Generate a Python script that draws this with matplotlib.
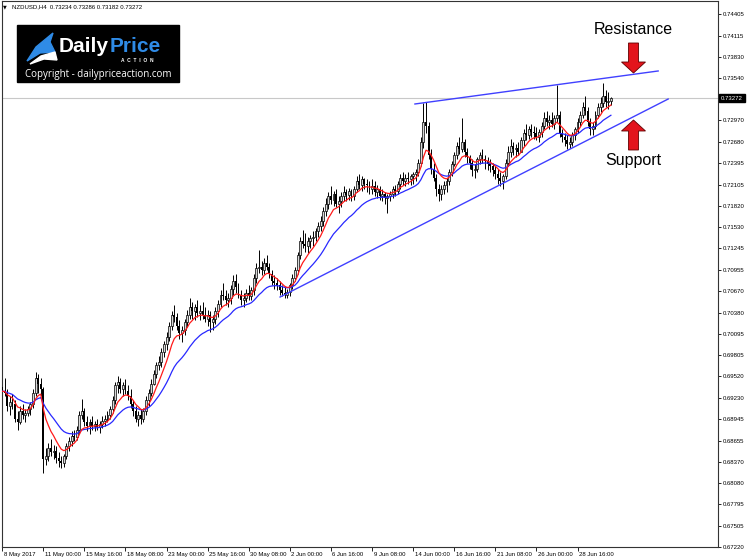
import numpy as np
import pandas as pd
import matplotlib
matplotlib.use("Agg")
import matplotlib.pyplot as plt
from matplotlib import transforms
from matplotlib.patches import Polygon, Rectangle

W, H = 750, 559

SYMBOL = "NZDUSD,H4"
LAST_OHLC = "0.73234 0.73286 0.73182 0.73272"
LAST_PRICE = 0.73272

# H4 bars, prices in pips (x 1e-4); each open = previous close
FIRST_OPEN = 6938
highs = [
    6945, 6950, 6935, 6925, 6928, 6920, 6905, 6912, 6915, 6908, 6912, 6918, 6935, 6958, 6955, 6950,
    6938, 6855, 6862, 6868, 6860, 6858, 6850, 6845, 6848, 6862, 6870, 6878, 6880, 6885, 6905, 6922,
    6910, 6898, 6895, 6898, 6892, 6895, 6892, 6898, 6900,
    6905, 6912, 6925, 6945, 6952, 6950, 6945, 6948, 6940, 6935, 6920, 6912, 6905, 6908, 6910, 6925,
    6935, 6948,
    6960, 6972, 6980, 6990, 7000, 7012, 7025, 7040, 7048, 7038, 7028, 7020, 7030, 7042, 7058, 7052,
    7050, 7055, 7048, 7052, 7045, 7042, 7040, 7035, 7045, 7055, 7068, 7078, 7068, 7065, 7075, 7088,
    7090, 7078, 7068, 7065, 7070, 7075, 7072, 7090, 7105, 7122, 7108, 7112, 7115, 7105, 7095, 7088,
    7085, 7080, 7075, 7072, 7070, 7078, 7090, 7100, 7120, 7140, 7150, 7145, 7140,
    7142, 7148, 7152, 7160, 7168, 7180, 7192, 7200, 7208, 7202, 7205, 7195, 7200, 7208, 7205, 7206,
    7205, 7208, 7222, 7225, 7222, 7220, 7218, 7215, 7218, 7215, 7210, 7208, 7205, 7200, 7198, 7202,
    7208, 7210, 7215, 7225, 7228, 7225, 7228, 7225, 7228,
    7232, 7245, 7275, 7320, 7322, 7295, 7258, 7240, 7225, 7212, 7210, 7215, 7220, 7232, 7242, 7255,
    7268, 7275, 7300, 7272, 7260, 7250, 7245, 7238, 7248, 7255, 7258, 7250, 7248, 7245, 7240, 7235,
    7232, 7228, 7225, 7245, 7262, 7272, 7268, 7265, 7268,
    7275, 7285, 7292, 7290, 7292, 7290, 7288, 7285, 7295, 7308, 7310, 7305, 7308, 7305, 7345, 7310,
    7285, 7280, 7278, 7275, 7282, 7288, 7300, 7310, 7322, 7330, 7315, 7300, 7295, 7310, 7320, 7328,
    7348, 7338, 7335, 7328.6,
]
lows = [
    6915, 6925, 6905, 6900, 6908, 6890, 6880, 6888, 6895, 6890, 6898, 6900, 6910, 6925, 6930, 6925,
    6822, 6832, 6838, 6845, 6840, 6835, 6830, 6828, 6830, 6840, 6852, 6858, 6865, 6866, 6875, 6895,
    6885, 6878, 6875, 6880, 6878, 6880, 6876, 6882, 6885,
    6890, 6895, 6902, 6915, 6930, 6930, 6925, 6928, 6920, 6910, 6898, 6890, 6885, 6888, 6890, 6900,
    6912, 6925,
    6940, 6950, 6960, 6965, 6978, 6988, 7000, 7015, 7025, 7015, 7002, 6998, 7008, 7018, 7030, 7030,
    7028, 7032, 7028, 7030, 7025, 7020, 7012, 7015, 7022, 7032, 7045, 7055, 7048, 7045, 7050, 7062,
    7065, 7058, 7048, 7045, 7052, 7055, 7055, 7062, 7078, 7092, 7088, 7090, 7095, 7085, 7075, 7070,
    7068, 7062, 7060, 7058, 7058, 7060, 7070, 7080, 7090, 7110, 7125, 7120, 7118,
    7125, 7128, 7135, 7140, 7148, 7155, 7168, 7178, 7185, 7182, 7180, 7172, 7180, 7188, 7188, 7190,
    7188, 7190, 7200, 7205, 7202, 7205, 7200, 7198, 7198, 7195, 7192, 7190, 7188, 7185, 7172, 7188,
    7192, 7195, 7198, 7205, 7210, 7208, 7212, 7210, 7212,
    7215, 7222, 7235, 7260, 7280, 7245, 7225, 7215, 7195, 7188, 7190, 7198, 7200, 7210, 7222, 7235,
    7245, 7252, 7255, 7248, 7240, 7232, 7222, 7220, 7228, 7238, 7240, 7232, 7230, 7228, 7222, 7218,
    7212, 7208, 7205, 7218, 7235, 7248, 7250, 7248, 7250,
    7255, 7262, 7270, 7272, 7275, 7272, 7270, 7268, 7275, 7285, 7290, 7285, 7288, 7285, 7295, 7275,
    7268, 7262, 7258, 7260, 7262, 7270, 7280, 7290, 7300, 7305, 7290, 7278, 7277, 7285, 7300, 7308,
    7315, 7315, 7312, 7318.2,
]
closes = [
    6932, 6930, 6912, 6918, 6915, 6895, 6890, 6905, 6900, 6903, 6908, 6915, 6930, 6950, 6942, 6935,
    6840, 6845, 6855, 6850, 6852, 6842, 6838, 6835, 6845, 6858, 6865, 6872, 6870, 6880, 6900, 6905,
    6890, 6885, 6890, 6885, 6888, 6884, 6888, 6892, 6895,
    6900, 6908, 6920, 6940, 6945, 6935, 6940, 6932, 6925, 6915, 6905, 6895, 6900, 6895, 6905, 6920,
    6930, 6942,
    6955, 6968, 6972, 6985, 6995, 7005, 7020, 7035, 7032, 7020, 7010, 7015, 7025, 7035, 7045, 7040,
    7045, 7038, 7040, 7035, 7030, 7035, 7025, 7030, 7040, 7050, 7062, 7060, 7055, 7058, 7070, 7080,
    7072, 7062, 7055, 7058, 7065, 7060, 7068, 7085, 7098, 7100, 7095, 7105, 7100, 7090, 7080, 7078,
    7075, 7068, 7065, 7062, 7066, 7075, 7085, 7095, 7115, 7135, 7130, 7128, 7135,
    7138, 7140, 7148, 7155, 7162, 7175, 7185, 7195, 7190, 7198, 7185, 7188, 7195, 7200, 7196, 7202,
    7195, 7205, 7215, 7210, 7218, 7212, 7210, 7205, 7208, 7200, 7205, 7195, 7198, 7192, 7195, 7198,
    7205, 7202, 7212, 7220, 7215, 7220, 7218, 7222, 7225,
    7228, 7240, 7268, 7295, 7290, 7250, 7232, 7220, 7205, 7198, 7205, 7210, 7215, 7228, 7238, 7250,
    7262, 7258, 7268, 7255, 7248, 7240, 7230, 7232, 7245, 7250, 7245, 7242, 7238, 7235, 7230, 7225,
    7220, 7215, 7222, 7240, 7255, 7262, 7258, 7260, 7255,
    7270, 7280, 7278, 7285, 7282, 7280, 7275, 7282, 7290, 7300, 7295, 7298, 7292, 7300, 7305, 7280,
    7275, 7270, 7265, 7268, 7278, 7285, 7295, 7305, 7315, 7310, 7295, 7285, 7290, 7305, 7315, 7320,
    7330, 7322, 7323.4, 7327.2,
]

date_labels = ["8 May 2017", "11 May 00:00", "15 May 16:00", "18 May 08:00", "23 May 00:00",
               "25 May 16:00", "30 May 08:00", "2 Jun 00:00", "6 Jun 16:00", "9 Jun 08:00",
               "14 Jun 00:00", "16 Jun 16:00", "21 Jun 08:00", "26 Jun 00:00", "28 Jun 16:00"]
BARS_PER_LABEL = 16
price_labels = ["0.74405", "0.74115", "0.73830", "0.73540", "0.72970", "0.72680", "0.72395",
                "0.72105", "0.71820", "0.71530", "0.71245", "0.70955", "0.70670", "0.70380",
                "0.70095", "0.69805", "0.69520", "0.69230", "0.68945", "0.68655", "0.68370",
                "0.68080", "0.67795", "0.67505", "0.67220"]

# hand-drawn trend lines (bar index, price)
resistance_bars = [160.7, 255.4]
resistance_prices = [0.73192, 0.73637]
support_bars = [108.2, 259.3]
support_prices = [0.70590, 0.73259]

FAST_EMA, SLOW_EMA = 8, 21

h = np.array(highs) / 1e4
l = np.array(lows) / 1e4
c = np.array(closes) / 1e4
o = np.r_[FIRST_OPEN / 1e4, c[:-1]]
idx = np.arange(len(c))
fast = pd.Series(c).ewm(span=FAST_EMA, adjust=False).mean()
slow = pd.Series(c).ewm(span=SLOW_EMA, adjust=False).mean()

plt.rcParams["font.family"] = ["Liberation Sans", "DejaVu Sans"]
fig = plt.figure(figsize=(W / 100, H / 100), dpi=100)
ax = fig.add_axes([1.5 / W, 12 / H, 716.5 / W, 546 / H])
ax.set_xlim(-0.27, 278.7)
ax.set_ylim(0.67220, 0.745803)

ax.axhline(LAST_PRICE, color="#c8c8c8", lw=0.8, zorder=0)
ax.vlines(idx, l, h, color="black", lw=0.7, zorder=2)
up = c >= o
ax.bar(idx[up], (c - o)[up], bottom=o[up], width=0.75, facecolor="#d8d8d8",
       edgecolor="black", lw=0.5, zorder=3)
ax.bar(idx[~up], (o - c)[~up], bottom=c[~up], width=0.75, color="black", lw=0, zorder=3)
ax.plot(idx, slow, color="#2828ff", lw=0.9, zorder=4)
ax.plot(idx, fast, color="#ff1a1a", lw=0.9, zorder=4)
ax.plot(resistance_bars, resistance_prices, color="#4040ff", lw=1, zorder=5)
ax.plot(support_bars, support_prices, color="#4040ff", lw=1, zorder=5)

for s in ax.spines.values():
    s.set_linewidth(0.8)
    s.set_color("#333333")

ax.set_yticks([float(p) for p in price_labels])
ax.set_yticklabels(price_labels)
ax.tick_params(axis="y", left=False, labelleft=False, right=True, labelright=True,
               length=2, width=0.6, pad=1.5, labelsize=4.3)
ax.set_xticks(np.arange(len(date_labels)) * BARS_PER_LABEL)
ax.set_xticklabels(date_labels)
ax.tick_params(axis="x", length=3, width=0.6, pad=0.8, labelsize=4.3)
shift = transforms.ScaledTranslation(1.5 / 100, 0, fig.dpi_scale_trans)
for lbl in ax.get_xticklabels():
    lbl.set_horizontalalignment("left")
    lbl.set_transform(lbl.get_transform() + shift)

# current price marker on the price scale
tr = transforms.blended_transform_factory(ax.transAxes, ax.transData)
ax.text(1.0, LAST_PRICE, f"{LAST_PRICE:.5f}", transform=tr + transforms.ScaledTranslation(
    3 / 100, 0, fig.dpi_scale_trans), ha="left", va="center", fontsize=4.3, color="white",
    clip_on=False, bbox=dict(boxstyle="square,pad=0.3", fc="black", ec="black"))


def fp(x, y):
    return (x / W, 1 - y / H)


fig.text(*fp(3, 6.5), "\u25bc", fontsize=3.5, ha="left", va="center", family="DejaVu Sans")
fig.text(*fp(12, 6.5), f"{SYMBOL}  {LAST_OHLC}", fontsize=4.3, ha="left", va="center")

# logo
fig.patches.append(Rectangle(fp(17, 82), 162 / W, 57 / H, transform=fig.transFigure,
                             color="black", zorder=10))
fig.patches.append(Polygon([fp(27, 61), fp(36, 47), fp(53, 33), fp(50, 42), fp(55, 52),
                            fp(40, 53)], closed=True, transform=fig.transFigure,
                           color="#2f8be6", zorder=11))
fig.patches.append(Polygon([fp(30, 64), fp(41, 56), fp(55, 52), fp(57, 60), fp(44, 59)],
                           closed=True, transform=fig.transFigure, color="white", zorder=11))
fig.text(*fp(59, 47), "Daily", fontsize=15, weight="bold", color="white",
         ha="left", va="center", zorder=12)
fig.text(*fp(110, 47), "Price", fontsize=15, weight="bold", color="#2f8be6",
         ha="left", va="center", zorder=12)
fig.text(*fp(137, 60), "A  C  T  I  O  N", fontsize=3.5, weight="bold", color="white",
         ha="center", va="center", zorder=12)
fig.text(*fp(98, 74.5), "Copyright - dailypriceaction.com", fontsize=7, color="white",
         family="Open Sans", ha="center", va="center", zorder=12)

# annotations
fig.text(*fp(633, 30), "Resistance", fontsize=11.5, ha="center", va="center")
fig.text(*fp(633, 161), "Support", fontsize=11.5, ha="center", va="center")
down_arrow = [(628.5, 43), (638.5, 43), (638.5, 62), (645.5, 62), (633.5, 73), (621.5, 62),
              (628.5, 62)]
up_arrow = [(628.5, 150), (638.5, 150), (638.5, 131), (645.5, 131), (633.5, 120), (621.5, 131),
            (628.5, 131)]
for pts in (down_arrow, up_arrow):
    fig.patches.append(Polygon([fp(x, y) for x, y in pts], closed=True,
                               transform=fig.transFigure, facecolor="#e3141c",
                               edgecolor="#600000", lw=0.6, zorder=10))

fig.savefig("out.png", dpi=100)
